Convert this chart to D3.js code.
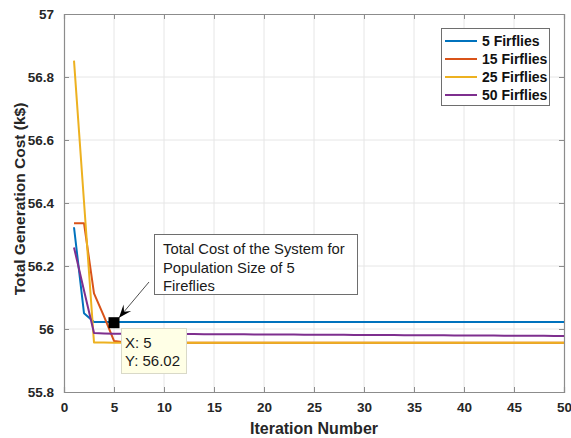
<!DOCTYPE html>
<html>
<head>
<meta charset="utf-8">
<script src="https://cdn.jsdelivr.net/npm/d3@7"></script>
<style>
  html, body { margin: 0; padding: 0; background: #fff; }
  svg { display: block; }
  text { font-family: "Liberation Sans", Arial, sans-serif; }
</style>
</head>
<body>
<svg id="chart" width="571" height="438"></svg>
<script>
// Convergence of total generation cost for different firefly population sizes
const iterations = d3.range(1, 51);

const seriesNames = ["5 Firflies", "15 Firflies", "25 Firflies", "50 Firflies"];
const seriesColors = ["#0072BD", "#D95319", "#EDB120", "#7E2F8E"];

const head5  = [56.323, 56.050, 56.022, 56.022, 56.022];
const tail5  = 56.022;
const head15 = [56.336, 56.336, 56.113, 56.040, 55.962, 55.958];
const tail15 = 55.956;
const head25 = [56.852, 56.404, 55.957, 55.957];
const tail25 = 55.956;
const head50 = [56.259, 56.122, 55.987, 55.986, 55.985];
const end50  = 55.978;

const xTicks = [0, 5, 10, 15, 20, 25, 30, 35, 40, 45, 50];
const yTicks = [55.8, 56, 56.2, 56.4, 56.6, 56.8, 57];
const yTickLabels = ["55.8", "56", "56.2", "56.4", "56.6", "56.8", "57"];

const tipPoint = { x: 5, y: 56.02 };
const noteLines = ["Total Cost of the System for", "Population Size of 5", "Fireflies"];

// Build full 50-iteration histories from the early values and plateaus
function fill(head, tail) {
  return iterations.map((it, i) => i < head.length ? head[i] : tail);
}
// The 50-firefly run keeps creeping down slowly after iteration 5
const series50 = iterations.map((it, i) => {
  if (i < head50.length) return head50[i];
  const last = head50[head50.length - 1];
  return last + (end50 - last) * (it - head50.length) / (50 - head50.length);
});
const seriesValues = [fill(head5, tail5), fill(head15, tail15), fill(head25, tail25), series50];

const svg = d3.select("#chart");
const margin = { left: 64, right: 7, top: 14, bottom: 46 };
const W = 571, H = 438;
const x = d3.scaleLinear().domain([0, 50]).range([margin.left, W - margin.right]);
const y = d3.scaleLinear().domain([55.8, 57]).range([H - margin.bottom, margin.top]);

const axisColor = "#8c8c8c";
const textColor = "#262626";

// grid
const grid = svg.append("g");
grid.selectAll(".gx").data(xTicks.slice(1, -1)).enter().append("line")
  .attr("x1", d => x(d)).attr("x2", d => x(d))
  .attr("y1", y(55.8)).attr("y2", y(57))
  .attr("stroke", "#e6e6e6").attr("stroke-width", 1);
grid.selectAll(".gy").data(yTicks.slice(1, -1)).enter().append("line")
  .attr("x1", x(0)).attr("x2", x(50))
  .attr("y1", d => y(d)).attr("y2", d => y(d))
  .attr("stroke", "#e6e6e6").attr("stroke-width", 1);

// axes (bottom/left with labels, top/right mirrored ticks)
const fmtY = d => yTickLabels[yTicks.indexOf(d)];
const gx = svg.append("g").attr("transform", `translate(0,${y(55.8)})`)
  .call(d3.axisBottom(x).tickValues(xTicks).tickSize(-5).tickPadding(10));
const gy = svg.append("g").attr("transform", `translate(${x(0)},0)`)
  .call(d3.axisLeft(y).tickValues(yTicks).tickFormat(fmtY).tickSize(-5).tickPadding(10));
const gxt = svg.append("g").attr("transform", `translate(0,${y(57)})`)
  .call(d3.axisTop(x).tickValues(xTicks).tickSize(-5).tickFormat(""));
const gyr = svg.append("g").attr("transform", `translate(${x(50)},0)`)
  .call(d3.axisRight(y).tickValues(yTicks).tickSize(-5).tickFormat(""));
[gx, gy, gxt, gyr].forEach(g => {
  g.select(".domain").attr("stroke", axisColor).attr("stroke-width", 1.2);
  g.selectAll(".tick line").attr("stroke", axisColor);
  g.selectAll("text").attr("fill", textColor)
    .style("font-family", "'Liberation Sans', Arial, sans-serif")
    .style("font-weight", "bold").style("font-size", "13.5px");
});

// series lines
const line = d3.line().x((d, i) => x(iterations[i])).y(d => y(d));
svg.append("g").selectAll("path").data(seriesValues).enter().append("path")
  .attr("d", line)
  .attr("fill", "none")
  .attr("stroke", (d, i) => seriesColors[i])
  .attr("stroke-width", 2)
  .attr("stroke-linejoin", "round");

// axis titles
svg.append("text")
  .attr("x", (x(0) + x(50)) / 2).attr("y", 434)
  .attr("text-anchor", "middle")
  .attr("fill", textColor)
  .style("font-weight", "bold").style("font-size", "16px")
  .text("Iteration Number");
svg.append("text")
  .attr("transform", `translate(25,${(y(55.8) + y(57)) / 2 - 4}) rotate(-90)`)
  .attr("text-anchor", "middle")
  .attr("fill", textColor)
  .style("font-weight", "bold").style("font-size", "15.5px")
  .text("Total Generation Cost (k$)");

// legend
const lg = svg.append("g");
lg.append("rect").attr("x", 441.5).attr("y", 28.5).attr("width", 108).attr("height", 77)
  .attr("fill", "#fff").attr("stroke", "#6e6e6e").attr("stroke-width", 1);
seriesNames.forEach((name, i) => {
  const yy = 41 + i * 18;
  lg.append("line").attr("x1", 445).attr("x2", 477).attr("y1", yy).attr("y2", yy)
    .attr("stroke", seriesColors[i]).attr("stroke-width", 2);
  lg.append("text").attr("x", 482).attr("y", yy + 5)
    .attr("fill", "#111").style("font-weight", "bold").style("font-size", "14px")
    .text(name);
});

// annotation box with arrow toward the data tip marker
const px = x(tipPoint.x), py = y(tipPoint.y);
svg.append("line")
  .attr("x1", 149).attr("y1", 282).attr("x2", px + 5).attr("y2", py - 5)
  .attr("stroke", "#222").attr("stroke-width", 0.8);
// arrowhead
const ang = Math.atan2((py - 5) - 282, (px + 5) - 149);
const tipX = px + 5, tipY = py - 5, L = 13, Wd = 5;
const bx = tipX - L * Math.cos(ang), by = tipY - L * Math.sin(ang);
svg.append("path")
  .attr("d", `M${tipX},${tipY} L${bx + Wd * Math.sin(ang)},${by - Wd * Math.cos(ang)} L${tipX - 0.6 * L * Math.cos(ang)},${tipY - 0.6 * L * Math.sin(ang)} L${bx - Wd * Math.sin(ang)},${by + Wd * Math.cos(ang)} Z`)
  .attr("fill", "#000");

svg.append("rect").attr("x", 154.5).attr("y", 234.5).attr("width", 203).attr("height", 60)
  .attr("fill", "#fff").attr("stroke", "#6e6e6e").attr("stroke-width", 1);
noteLines.forEach((t, i) => {
  svg.append("text").attr("x", 163).attr("y", 254 + i * 18.5)
    .attr("fill", "#1a1a1a").style("font-size", "14.8px").text(t);
});

// data tip marker and label
svg.append("rect").attr("x", px - 5.5).attr("y", py - 5.5).attr("width", 11).attr("height", 11)
  .attr("fill", "#000");
svg.append("rect").attr("x", 121.5).attr("y", 328.5).attr("width", 65).attr("height", 45)
  .attr("fill", "#ffffe6").attr("stroke", "#d9d9c8").attr("stroke-width", 1);
svg.append("text").attr("x", 125).attr("y", 348).attr("fill", "#1a1a1a")
  .style("font-size", "15px").text(`X: ${tipPoint.x}`);
svg.append("text").attr("x", 125).attr("y", 366).attr("fill", "#1a1a1a")
  .style("font-size", "15px").text(`Y: ${tipPoint.y.toFixed(2)}`);
</script>
</body>
</html>
